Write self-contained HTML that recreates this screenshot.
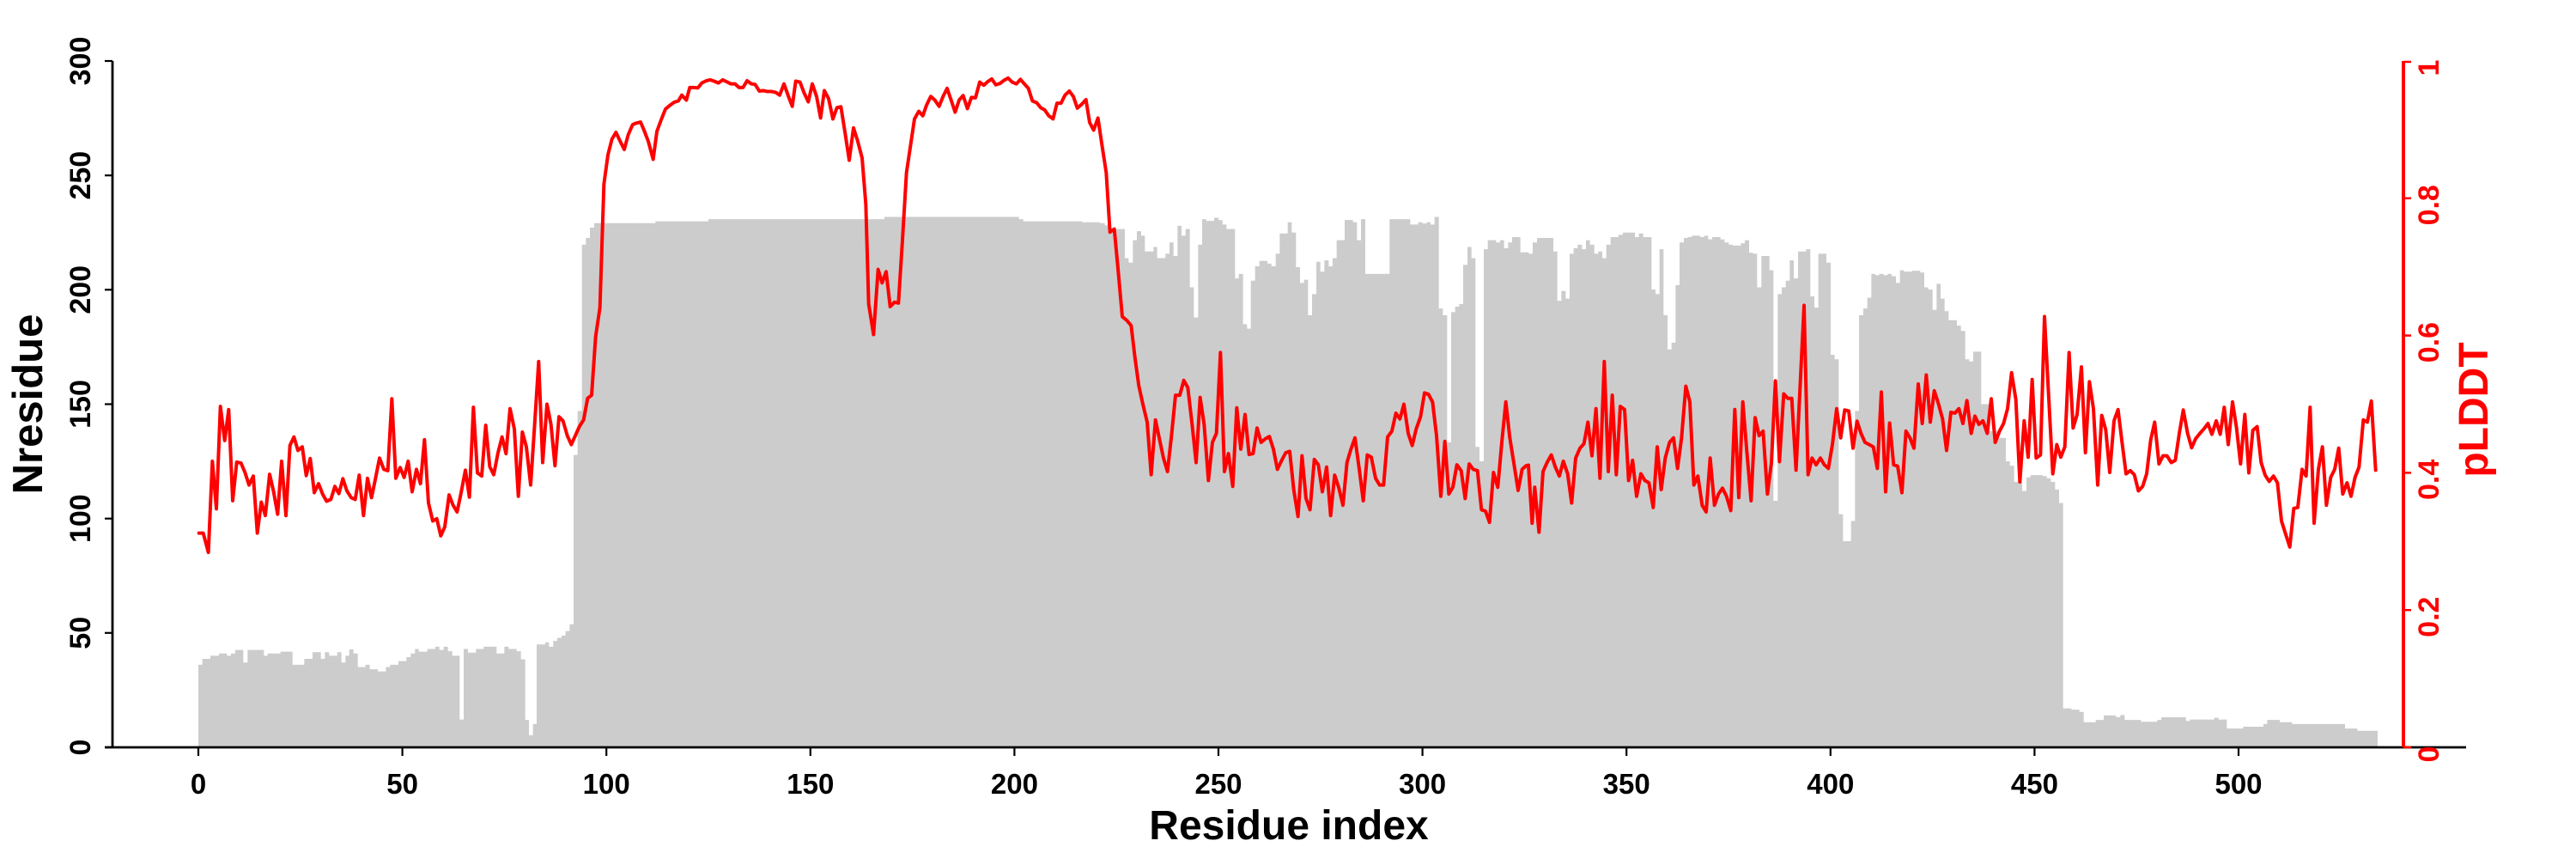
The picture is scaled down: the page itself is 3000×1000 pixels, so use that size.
<!DOCTYPE html>
<html>
<head>
<meta charset="utf-8">
<style>
html,body{margin:0;padding:0;background:#fff;}
svg{display:block;}
text{font-family:"Liberation Sans",Arial,Helvetica,sans-serif;font-weight:bold;}
</style>
</head>
<body>
<svg width="3000" height="1000" viewBox="0 0 3000 1000" xmlns="http://www.w3.org/2000/svg">
<rect width="3000" height="1000" fill="#fff"/>

<!-- Bars (Nresidue) -->
<g fill="#cccccc" stroke="none">
<path transform="translate(220,60) scale(0.333333,0.522959)" d="M33,1550 V1365 H47 V1352 H75 V1345 H105 V1340 H133 V1345 H147 V1340 H162 V1332 H190 V1360 H205 V1332 H262 V1345 H275 V1340 H320 V1336 H362 V1365 H403 V1352 H432 V1337 H461 V1352 H475 V1337 H490 V1345 H518 V1337 H533 V1360 H547 V1345 H560 V1331 H575 V1340 H590 V1370 H617 V1365 H632 V1375 H660 V1380 H688 V1370 H703 V1365 H732 V1357 H760 V1348 H775 V1340 H790 V1330 H803 V1336 H833 V1330 H861 V1325 H875 V1332 H890 V1325 H905 V1335 H920 V1345 H946 V1487 H960 V1330 H975 V1338 H1003 V1330 H1030 V1325 H1075 V1340 H1102 V1325 H1117 V1330 H1145 V1335 H1160 V1353 H1175 V1488 H1188 V1522 H1202 V1497 H1215 V1320 H1245 V1315 H1258 V1325 H1273 V1312 H1287 V1305 H1302 V1300 H1316 V1290 H1330 V1275 H1344 V898 H1358 V800 H1373 V430 H1387 V415 H1401 V392 H1416 V382 H1561 V1550 Z"/>
<path transform="translate(740,60) scale(0.333333,0.522959)" d="M-1,1550 V382 H70 V378 H255 V373 H870 V368 H1340 V373 H1355 V378 H1561 V1550 Z"/>
<path transform="translate(1260,60) scale(0.333333,0.522959)" d="M-1,1550 V380 H63 V382 H80 V387 H95 V395 H150 V460 H163 V470 H178 V420 H192 V400 H207 V410 H220 V445 H250 V435 H263 V460 H292 V450 H306 V425 H320 V455 H334 V388 H348 V410 H362 V395 H377 V525 H391 V592 H406 V430 H420 V373 H434 V377 H462 V370 H477 V375 H491 V385 H505 V395 H535 V505 H548 V495 H563 V607 H577 V617 H590 V510 H605 V478 H620 V466 H648 V472 H662 V478 H677 V450 H691 V405 H719 V380 H733 V403 H748 V480 H762 V515 H776 V508 H790 V587 H804 V540 H819 V468 H833 V490 H847 V465 H862 V478 H876 V460 H890 V420 H918 V375 H947 V380 H961 V420 H975 V373 H990 V495 H1075 V373 H1147 V385 H1175 V380 H1190 V383 H1204 V380 H1218 V385 H1232 V368 H1247 V572 H1261 V587 H1276 V870 H1290 V580 H1304 V568 H1318 V562 H1332 V475 H1347 V435 H1361 V460 H1375 V880 H1389 V912 H1404 V440 H1418 V420 H1447 V425 H1461 V420 H1475 V438 H1489 V425 H1503 V413 H1532 V447 H1561 V1550 Z"/>
<path transform="translate(1780,60) scale(0.333333,0.522959)" d="M-1,1550 V450 H15 V425 H30 V415 H87 V445 H101 V555 H115 V533 H130 V550 H144 V450 H158 V438 H172 V430 H187 V440 H201 V420 H215 V430 H230 V450 H244 V445 H258 V460 H272 V430 H287 V413 H315 V408 H330 V403 H372 V413 H386 V405 H401 V413 H430 V530 H444 V540 H458 V440 H472 V587 H486 V663 H500 V648 H514 V520 H528 V425 H543 V415 H557 V413 H571 V410 H600 V413 H614 V410 H628 V418 H642 V413 H671 V418 H685 V425 H700 V430 H714 V432 H742 V427 H756 V420 H771 V448 H785 V450 H799 V525 H814 V455 H842 V487 H856 V1000 H871 V540 H885 V525 H899 V510 H913 V465 H927 V505 H942 V445 H970 V440 H985 V545 H999 V570 H1013 V450 H1041 V470 H1056 V675 H1070 V685 H1084 V1030 H1099 V1090 H1127 V1045 H1141 V800 H1155 V587 H1170 V572 H1184 V548 H1198 V495 H1212 V498 H1226 V495 H1241 V498 H1255 V495 H1269 V500 H1284 V515 H1298 V487 H1312 V490 H1341 V488 H1369 V492 H1383 V525 H1397 V530 H1412 V575 H1426 V517 H1440 V550 H1454 V578 H1468 V598 H1497 V610 H1511 V622 H1526 V685 H1540 V690 H1554 V668 H1561 V1550 Z"/>
<path transform="translate(2300,60) scale(0.333333,0.522959)" d="M-1,1550 V668 H22 V785 H50 V845 H80 V860 H108 V912 H122 V922 H137 V958 H165 V978 H180 V948 H194 V943 H237 V945 H251 V950 H265 V958 H280 V975 H294 V1005 H308 V1462 H337 V1465 H365 V1470 H380 V1493 H422 V1488 H450 V1478 H493 V1482 H508 V1477 H523 V1488 H580 V1492 H637 V1488 H651 V1482 H737 V1490 H751 V1487 H836 V1483 H851 V1487 H880 V1507 H937 V1503 H1008 V1497 H1021 V1488 H1065 V1493 H1108 V1497 H1293 V1507 H1336 V1512 H1407 V1550 Z"/>
</g>

<!-- Black axes -->
<g stroke="#000" fill="none">
<line x1="131" y1="71" x2="131" y2="871" stroke-width="2.8"/>
<line x1="122" y1="870" x2="2872" y2="870" stroke-width="2.8"/>
<g stroke-width="2.2">
<line x1="122" y1="870" x2="131" y2="870"/>
<line x1="122" y1="736.8" x2="131" y2="736.8"/>
<line x1="122" y1="603.7" x2="131" y2="603.7"/>
<line x1="122" y1="470.5" x2="131" y2="470.5"/>
<line x1="122" y1="337.3" x2="131" y2="337.3"/>
<line x1="122" y1="204.2" x2="131" y2="204.2"/>
<line x1="122" y1="71" x2="131" y2="71"/>
<line x1="231" y1="870" x2="231" y2="880"/>
<line x1="468.6" y1="870" x2="468.6" y2="880"/>
<line x1="706.2" y1="870" x2="706.2" y2="880"/>
<line x1="943.8" y1="870" x2="943.8" y2="880"/>
<line x1="1181.4" y1="870" x2="1181.4" y2="880"/>
<line x1="1419" y1="870" x2="1419" y2="880"/>
<line x1="1656.6" y1="870" x2="1656.6" y2="880"/>
<line x1="1894.2" y1="870" x2="1894.2" y2="880"/>
<line x1="2131.8" y1="870" x2="2131.8" y2="880"/>
<line x1="2369.4" y1="870" x2="2369.4" y2="880"/>
<line x1="2607" y1="870" x2="2607" y2="880"/>
</g>
</g>

<!-- Red pLDDT line -->
<g fill="none" stroke="#ff0000" stroke-width="4" stroke-linejoin="round" stroke-linecap="round">
<polyline vector-effect="non-scaling-stroke" transform="translate(220,60) scale(0.333333,0.522959)" points="35,1072 50,1072 68,1115 82,912 96,1018 110,790 125,866 139,797 153,1000 167,914 182,916 196,937 210,965 225,945 239,1072 253,1003 267,1033 282,941 296,980 310,1030 324,912 339,1033 353,877 367,858 381,888 396,880 410,944 424,906 438,982 453,962 467,985 481,1001 496,997 510,968 524,984 538,951 552,978 567,993 581,997 595,943 610,1033 624,950 638,993 652,950 666,905 681,930 695,933 709,773 723,950 738,926 752,948 766,912 780,980 795,930 809,962 823,864 837,1005 852,1045 866,1040 880,1078 894,1058 909,987 923,1010 937,1025 951,982 966,932 980,992 994,792 1008,938 1023,945 1037,832 1051,924 1065,942 1080,893 1094,858 1108,895 1122,795 1137,840 1151,990 1165,847 1179,880 1194,965 1208,830 1222,690 1236,915 1251,785 1265,830 1279,922 1293,813 1307,822 1322,855 1336,875 1350,855 1364,835 1379,820 1393,772 1407,765 1421,635 1436,570 1450,295 1464,230 1478,195 1492,180 1507,200 1521,218 1535,185 1550,163 1560,160"/>
<polyline vector-effect="non-scaling-stroke" transform="translate(740,60) scale(0.333333,0.522959)" points="0,160 18,157 30,175 45,200 62,240 75,178 90,152 105,128 120,120 135,113 150,110 162,97 178,108 190,80 205,80 218,81 232,70 248,65 262,63 275,66 290,70 305,63 318,67 333,72 348,72 362,80 376,80 390,65 405,72 418,73 433,88 447,87 461,89 476,89 490,91 504,97 519,72 533,97 548,122 560,66 575,68 590,93 604,112 618,72 633,100 647,148 660,87 675,105 690,150 704,125 718,123 733,183 747,242 762,170 776,198 792,237 805,340 815,562 832,630 848,485 862,515 876,490 890,568 905,558 919,560 933,420 947,270 961,210 975,150 990,133 1004,143 1018,118 1032,100 1046,108 1061,122 1075,100 1089,82 1103,108 1117,135 1131,108 1145,98 1160,127 1174,102 1188,103 1203,68 1217,75 1231,67 1245,61 1259,74 1274,71 1288,64 1302,59 1316,68 1331,72 1345,62 1359,72 1373,82 1387,110 1402,114 1416,125 1430,130 1444,143 1459,150 1473,115 1487,115 1501,97 1516,88 1530,100 1544,126 1560,117"/>
<polyline vector-effect="non-scaling-stroke" transform="translate(1260,60) scale(0.333333,0.522959)" points="0,117 14,107 27,158 41,175 56,148 70,208 85,270 98,402 113,395 127,490 141,590 156,598 172,610 185,680 199,745 213,785 228,825 242,942 257,820 270,860 285,905 299,935 313,855 327,765 342,765 356,732 370,748 385,830 399,915 413,770 427,830 442,955 456,870 470,850 484,670 498,935 512,895 527,968 541,793 555,885 570,808 584,897 598,895 612,838 626,870 641,862 655,857 669,885 683,930 698,910 712,893 726,890 740,975 755,1035 769,900 783,995 797,1020 812,908 826,920 840,980 855,925 869,1033 883,943 897,970 912,1010 926,915 940,885 954,860 969,930 983,1000 997,898 1011,903 1026,950 1040,965 1054,965 1068,858 1083,845 1097,805 1111,818 1125,785 1140,850 1154,877 1168,840 1183,813 1197,760 1211,763 1225,780 1239,855 1254,990 1268,868 1282,985 1296,970 1310,920 1325,933 1339,995 1353,918 1367,930 1382,933 1396,1020 1410,1023 1424,1048 1438,937 1453,970 1467,870 1481,780 1495,860 1510,920 1524,977 1538,930 1552,922 1560,921"/>
<polyline vector-effect="non-scaling-stroke" transform="translate(1780,60) scale(0.333333,0.522959)" points="0,921 13,1050 22,970 37,1070 51,935 65,915 80,898 94,925 108,945 122,912 137,940 151,1005 165,905 180,883 194,873 208,825 222,900 236,795 250,950 265,690 279,935 293,765 307,942 321,790 336,797 350,955 364,910 378,990 393,940 407,955 421,960 436,1015 450,880 464,975 478,905 493,870 507,860 521,928 535,860 550,745 564,780 578,965 592,945 607,1010 621,1025 635,905 650,1010 664,985 678,972 692,990 707,1022 721,797 735,993 749,780 763,890 778,1000 792,815 806,855 820,845 835,985 849,915 863,733 877,913 892,762 906,772 920,772 935,932 963,565 977,942 991,905 1005,920 1020,905 1034,920 1048,928 1062,875 1077,795 1091,860 1105,798 1119,800 1134,883 1148,823 1162,850 1176,870 1191,875 1205,880 1219,928 1233,758 1248,980 1262,827 1276,920 1290,923 1305,982 1319,845 1333,860 1347,883 1362,740 1376,828 1390,720 1404,825 1418,755 1433,785 1447,818 1461,888 1476,803 1490,805 1504,795 1518,828 1532,777 1547,850 1560,812"/>
<polyline vector-effect="non-scaling-stroke" transform="translate(2300,60) scale(0.333333,0.522959)" points="0,812 14,830 28,822 43,850 57,773 71,870 86,845 100,828 114,795 128,715 143,775 157,958 172,822 186,903 200,730 214,905 229,898 243,590 257,760 272,940 286,875 300,903 314,880 329,670 343,838 357,808 372,702 386,893 400,735 414,795 429,965 443,810 457,842 471,937 486,822 500,797 514,870 528,940 543,933 557,942 571,978 586,968 600,940 614,865 628,825 643,918 657,900 671,900 686,915 700,910 714,850 728,798 743,850 757,882 771,862 786,850 800,840 814,828 828,852 843,822 857,852 871,792 885,875 900,780 914,838 928,918 943,808 957,938 971,843 986,835 1000,915 1014,943 1028,957 1043,945 1057,960 1071,1045 1086,1075 1100,1103 1114,1017 1128,1015 1143,930 1157,945 1171,792 1185,1050 1200,930 1214,880 1228,1010 1243,948 1257,930 1271,883 1285,985 1300,960 1314,990 1328,948 1342,925 1357,820 1371,825 1385,778 1400,932"/>
</g>

<!-- Red axis -->
<g stroke="#ff0000" fill="none">
<line x1="2799" y1="71" x2="2799" y2="870" stroke-width="4"/>
<g stroke-width="2.5">
<line x1="2799" y1="870" x2="2808" y2="870"/>
<line x1="2799" y1="710.2" x2="2808" y2="710.2"/>
<line x1="2799" y1="550.4" x2="2808" y2="550.4"/>
<line x1="2799" y1="390.6" x2="2808" y2="390.6"/>
<line x1="2799" y1="230.8" x2="2808" y2="230.8"/>
<line x1="2799" y1="72" x2="2808" y2="72"/>
</g>
</g>

<!-- Left tick labels -->
<g font-size="34" fill="#000" text-anchor="middle">
<text transform="translate(105,870) rotate(-90)">0</text>
<text transform="translate(105,736.8) rotate(-90)">50</text>
<text transform="translate(105,603.7) rotate(-90)">100</text>
<text transform="translate(105,470.5) rotate(-90)">150</text>
<text transform="translate(105,337.3) rotate(-90)">200</text>
<text transform="translate(105,204.2) rotate(-90)">250</text>
<text transform="translate(105,71) rotate(-90)">300</text>
</g>

<!-- Bottom tick labels -->
<g font-size="33" fill="#000" text-anchor="middle">
<text x="231" y="924">0</text>
<text x="468.6" y="924">50</text>
<text x="706.2" y="924">100</text>
<text x="943.8" y="924">150</text>
<text x="1181.4" y="924">200</text>
<text x="1419" y="924">250</text>
<text x="1656.6" y="924">300</text>
<text x="1894.2" y="924">350</text>
<text x="2131.8" y="924">400</text>
<text x="2369.4" y="924">450</text>
<text x="2607" y="924">500</text>
</g>

<!-- Right tick labels -->
<g font-size="34" fill="#ff0000" text-anchor="middle">
<text transform="translate(2840,878) rotate(-90)">0</text>
<text transform="translate(2840,718.2) rotate(-90)">0.2</text>
<text transform="translate(2840,558.4) rotate(-90)">0.4</text>
<text transform="translate(2840,398.6) rotate(-90)">0.6</text>
<text transform="translate(2840,238.8) rotate(-90)">0.8</text>
<text transform="translate(2840,79) rotate(-90)">1</text>
</g>

<!-- Axis titles -->
<text x="1501" y="977" font-size="48" fill="#000" text-anchor="middle">Residue index</text>
<text transform="translate(49,470.5) rotate(-90)" font-size="49" fill="#000" text-anchor="middle">Nresidue</text>
<text transform="translate(2897,477) rotate(-90)" font-size="48" fill="#ff0000" text-anchor="middle">pLDDT</text>
</svg>
</body>
</html>
